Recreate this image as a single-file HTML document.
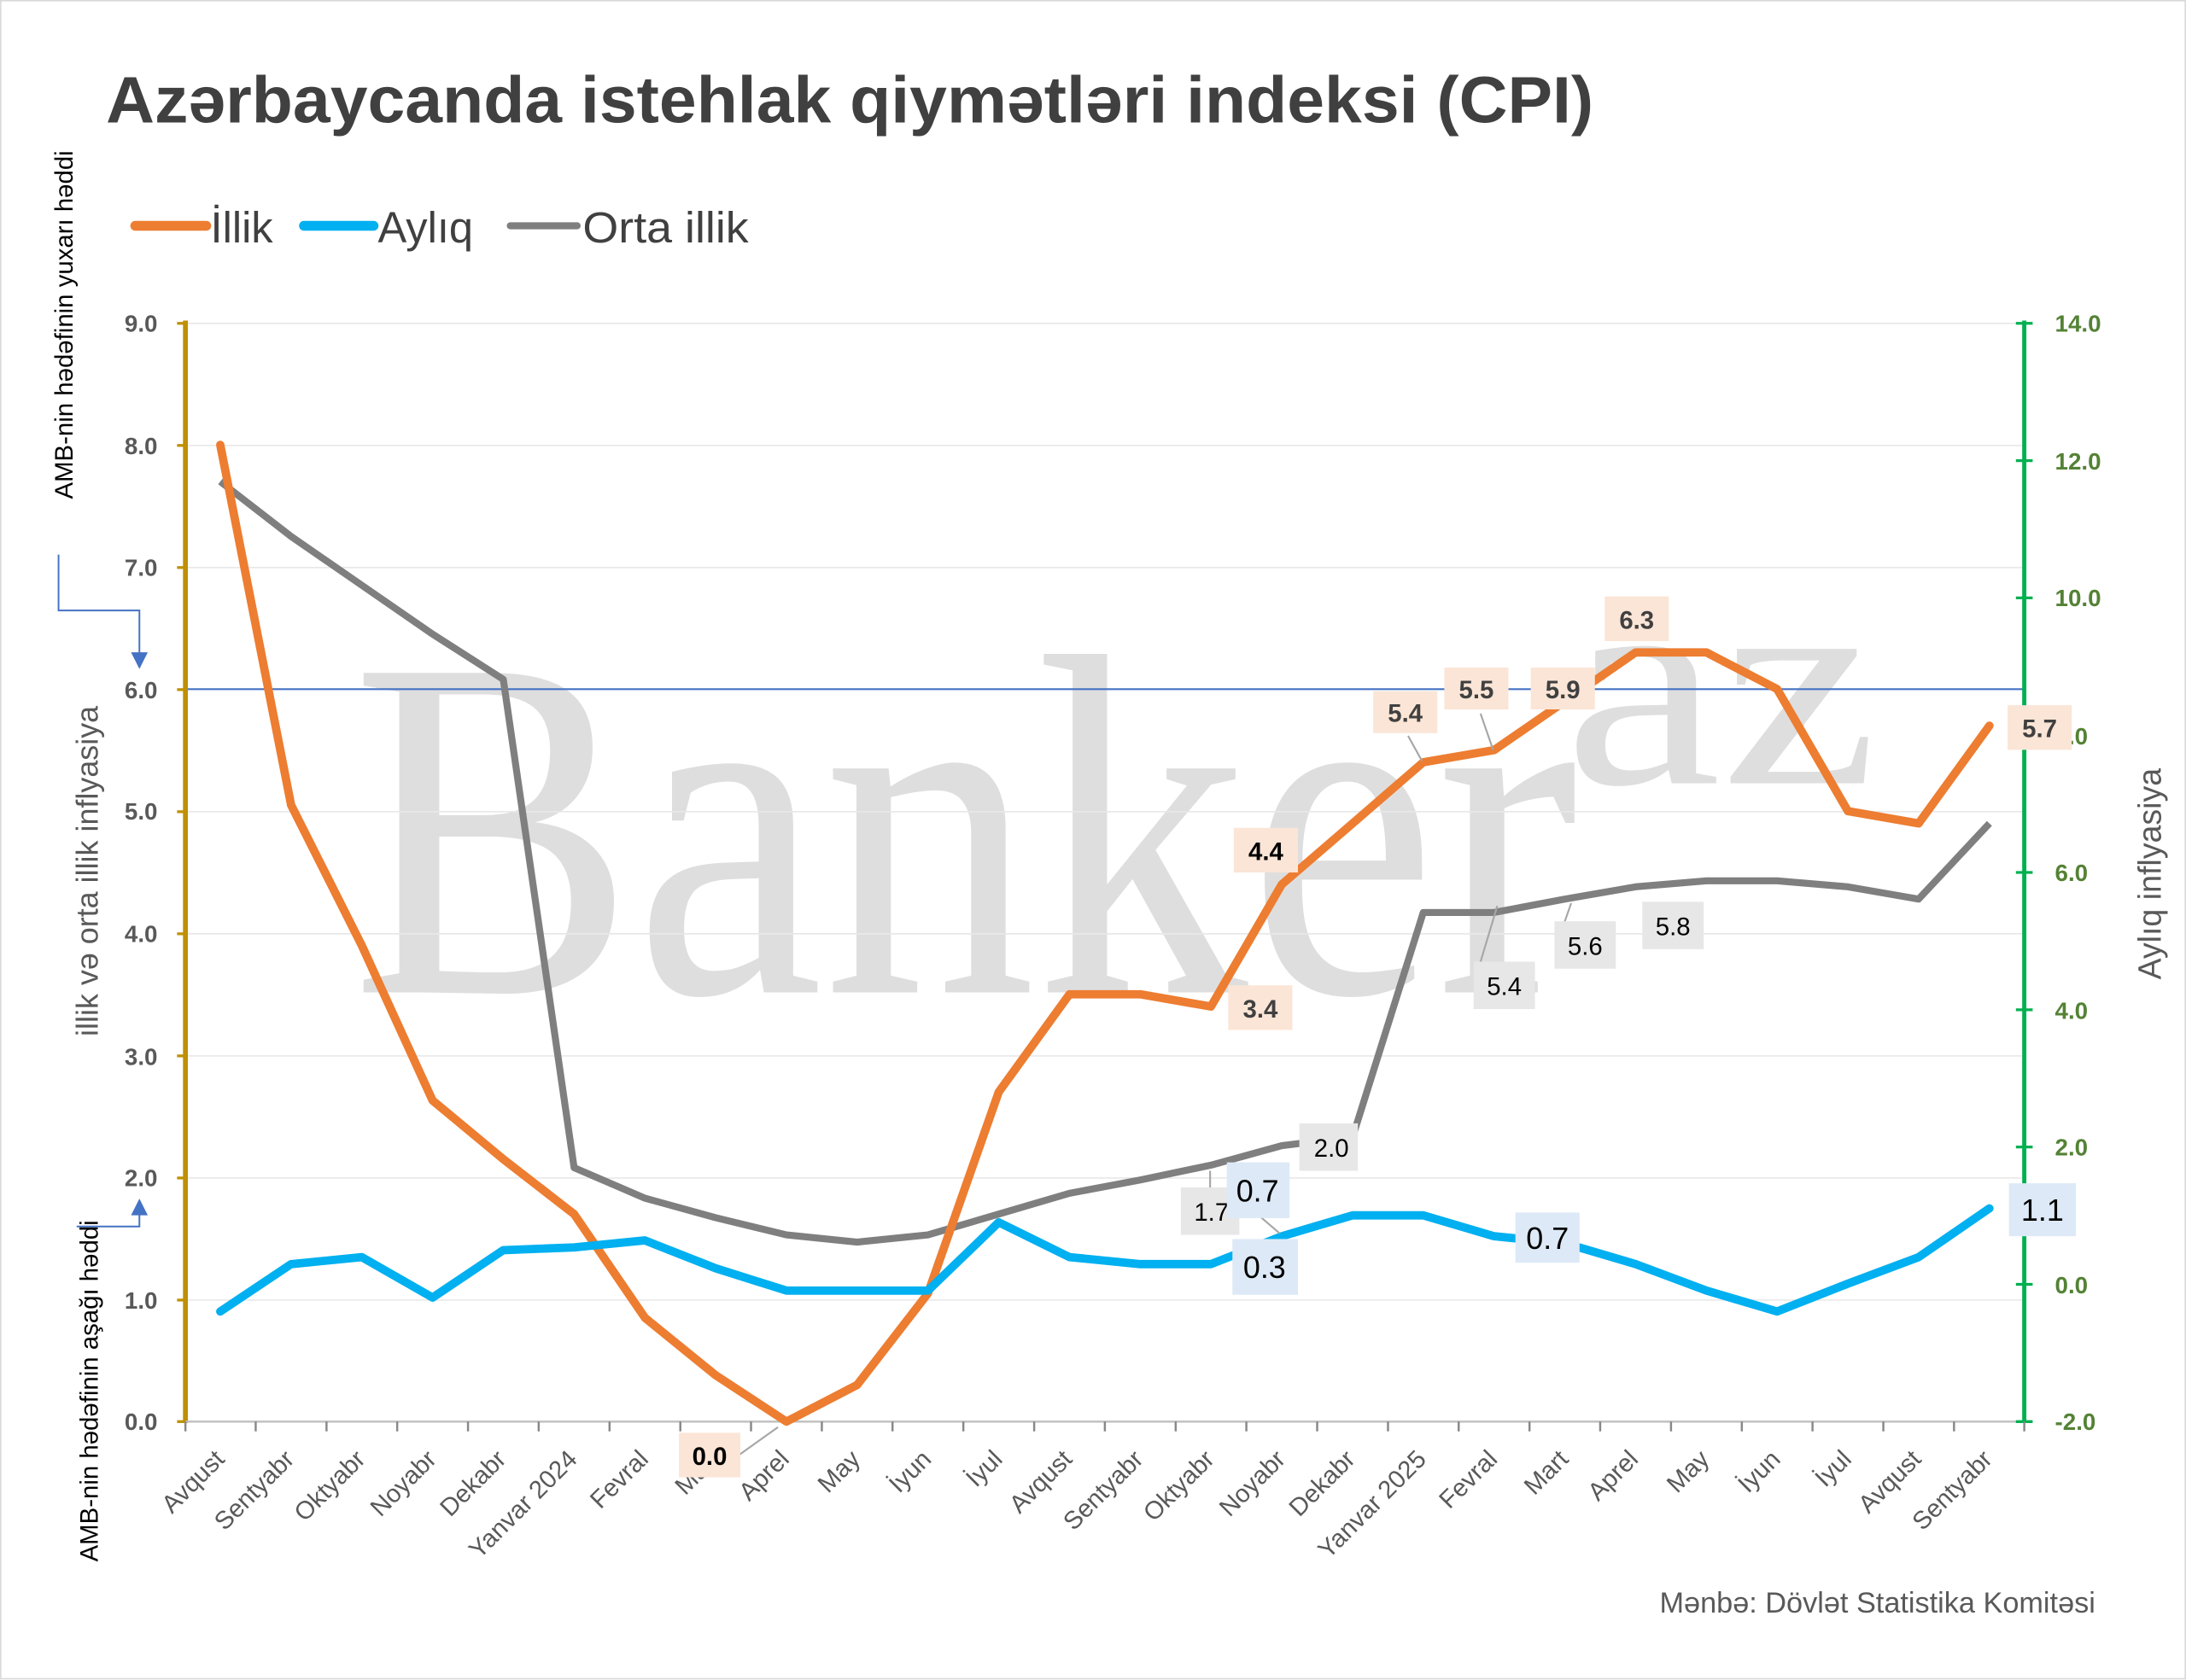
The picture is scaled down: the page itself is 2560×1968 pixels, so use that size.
<!DOCTYPE html>
<html><head><meta charset="utf-8"><style>html,body{margin:0;padding:0;background:#fff}svg{display:block}</style></head>
<body>
<svg width="2560" height="1968" viewBox="0 0 1568 1205.4" preserveAspectRatio="none" xmlns="http://www.w3.org/2000/svg" font-family="Liberation Sans, DejaVu Sans, sans-serif">
<rect x="0.5" y="0.5" width="1567" height="1204" fill="#fff" stroke="#d9d9d9"/>
<!-- watermark -->
<text x="252" y="712" font-family="Liberation Serif, serif" font-size="350" fill="#d9d9d9" opacity="0.85" textLength="880" lengthAdjust="spacingAndGlyphs">Banker</text>
<text x="1122" y="562" font-family="Liberation Serif, serif" font-size="210" fill="#d9d9d9" opacity="0.85" textLength="225" lengthAdjust="spacingAndGlyphs">az</text>
<!-- title -->
<text x="76" y="88" font-size="47" font-weight="bold" fill="#404040" textLength="1067" lengthAdjust="spacingAndGlyphs">Azərbaycanda istehlak qiymətləri indeksi (CPI)</text>
<!-- legend -->
<line x1="97" y1="162" x2="148" y2="162" stroke="#ed7d31" stroke-width="7" stroke-linecap="round"/>
<text x="151" y="174" font-size="31" fill="#404040">İllik</text>
<line x1="218" y1="162" x2="268" y2="162" stroke="#00b0f0" stroke-width="7" stroke-linecap="round"/>
<text x="271" y="174" font-size="31" fill="#404040">Aylıq</text>
<line x1="366" y1="162" x2="414" y2="162" stroke="#7f7f7f" stroke-width="5" stroke-linecap="round"/>
<text x="418" y="174" font-size="31" fill="#404040" textLength="119" lengthAdjust="spacingAndGlyphs">Orta illik</text>
<!-- grid -->
<g stroke="#e8e8e8" stroke-width="1">
<line x1="133" x2="1452" y1="232" y2="232"/><line x1="133" x2="1452" y1="319.6" y2="319.6"/><line x1="133" x2="1452" y1="407.2" y2="407.2"/><line x1="133" x2="1452" y1="582.4" y2="582.4"/><line x1="133" x2="1452" y1="670" y2="670"/><line x1="133" x2="1452" y1="757.6" y2="757.6"/><line x1="133" x2="1452" y1="845.2" y2="845.2"/><line x1="133" x2="1452" y1="932.8" y2="932.8"/>
</g>
<line x1="133" x2="1452" y1="494.5" y2="494.5" stroke="#4472c4" stroke-width="1.3"/>
<!-- axes -->
<line x1="133" y1="230" x2="133" y2="1021" stroke="#bf9000" stroke-width="3.5"/>
<line x1="1452" y1="230" x2="1452" y2="1021" stroke="#00b050" stroke-width="3"/>
<line x1="133" y1="1020" x2="1452" y2="1020" stroke="#bfbfbf" stroke-width="1.5"/>
<g stroke="#bf9000" stroke-width="2"><line x1="127" x2="133" y1="232" y2="232"/><line x1="127" x2="133" y1="319.6" y2="319.6"/><line x1="127" x2="133" y1="407.2" y2="407.2"/><line x1="127" x2="133" y1="494.8" y2="494.8"/><line x1="127" x2="133" y1="582.4" y2="582.4"/><line x1="127" x2="133" y1="670" y2="670"/><line x1="127" x2="133" y1="757.6" y2="757.6"/><line x1="127" x2="133" y1="845.2" y2="845.2"/><line x1="127" x2="133" y1="932.8" y2="932.8"/><line x1="127" x2="133" y1="1020" y2="1020"/></g>
<g stroke="#00b050" stroke-width="2"><line x1="1446" x2="1458" y1="232" y2="232"/><line x1="1446" x2="1458" y1="330.5" y2="330.5"/><line x1="1446" x2="1458" y1="429" y2="429"/><line x1="1446" x2="1458" y1="527.5" y2="527.5"/><line x1="1446" x2="1458" y1="626" y2="626"/><line x1="1446" x2="1458" y1="724.5" y2="724.5"/><line x1="1446" x2="1458" y1="823" y2="823"/><line x1="1446" x2="1458" y1="921.5" y2="921.5"/><line x1="1446" x2="1458" y1="1020" y2="1020"/></g>
<g stroke="#888" stroke-width="1.5">
<line x1="133" x2="133" y1="1020" y2="1027"/><line x1="183.4" x2="183.4" y1="1020" y2="1027"/><line x1="234.2" x2="234.2" y1="1020" y2="1027"/><line x1="284.9" x2="284.9" y1="1020" y2="1027"/><line x1="335.7" x2="335.7" y1="1020" y2="1027"/><line x1="386.4" x2="386.4" y1="1020" y2="1027"/><line x1="437.2" x2="437.2" y1="1020" y2="1027"/><line x1="488" x2="488" y1="1020" y2="1027"/><line x1="538.7" x2="538.7" y1="1020" y2="1027"/><line x1="589.5" x2="589.5" y1="1020" y2="1027"/><line x1="640.2" x2="640.2" y1="1020" y2="1027"/><line x1="691" x2="691" y1="1020" y2="1027"/><line x1="741.8" x2="741.8" y1="1020" y2="1027"/><line x1="792.5" x2="792.5" y1="1020" y2="1027"/><line x1="843.3" x2="843.3" y1="1020" y2="1027"/><line x1="894" x2="894" y1="1020" y2="1027"/><line x1="944.8" x2="944.8" y1="1020" y2="1027"/><line x1="995.6" x2="995.6" y1="1020" y2="1027"/><line x1="1046.3" x2="1046.3" y1="1020" y2="1027"/><line x1="1097.1" x2="1097.1" y1="1020" y2="1027"/><line x1="1147.8" x2="1147.8" y1="1020" y2="1027"/><line x1="1198.6" x2="1198.6" y1="1020" y2="1027"/><line x1="1249.4" x2="1249.4" y1="1020" y2="1027"/><line x1="1300.1" x2="1300.1" y1="1020" y2="1027"/><line x1="1350.9" x2="1350.9" y1="1020" y2="1027"/><line x1="1401.6" x2="1401.6" y1="1020" y2="1027"/><line x1="1452" x2="1452" y1="1020" y2="1027"/>
</g>
<!-- left tick labels -->
<g font-size="17" font-weight="bold" fill="#595959" text-anchor="end">
<text x="113" y="238">9.0</text><text x="113" y="326">8.0</text><text x="113" y="413">7.0</text><text x="113" y="501">6.0</text><text x="113" y="588">5.0</text><text x="113" y="676">4.0</text><text x="113" y="764">3.0</text><text x="113" y="851">2.0</text><text x="113" y="939">1.0</text><text x="113" y="1026">0.0</text>
</g>
<g font-size="17" font-weight="bold" fill="#548235">
<text x="1474" y="238">14.0</text><text x="1474" y="337">12.0</text><text x="1474" y="435">10.0</text><text x="1474" y="534">8.0</text><text x="1474" y="632">6.0</text><text x="1474" y="731">4.0</text><text x="1474" y="829">2.0</text><text x="1474" y="928">0.0</text><text x="1474" y="1026">-2.0</text>
</g>
<!-- x labels -->
<g font-size="18" fill="#595959" text-anchor="end">
<text transform="translate(162,1048) rotate(-45)">Avqust</text>
<text transform="translate(212,1048) rotate(-45)">Sentyabr</text>
<text transform="translate(263,1048) rotate(-45)">Oktyabr</text>
<text transform="translate(314,1048) rotate(-45)">Noyabr</text>
<text transform="translate(364,1048) rotate(-45)">Dekabr</text>
<text transform="translate(415,1048) rotate(-45)">Yanvar 2024</text>
<text transform="translate(466,1048) rotate(-45)">Fevral</text>
<text transform="translate(517,1048) rotate(-45)">Mart</text>
<text transform="translate(567,1048) rotate(-45)">Aprel</text>
<text transform="translate(618,1048) rotate(-45)">May</text>
<text transform="translate(669,1048) rotate(-45)">İyun</text>
<text transform="translate(720,1048) rotate(-45)">İyul</text>
<text transform="translate(770,1048) rotate(-45)">Avqust</text>
<text transform="translate(821,1048) rotate(-45)">Sentyabr</text>
<text transform="translate(872,1048) rotate(-45)">Oktyabr</text>
<text transform="translate(923,1048) rotate(-45)">Noyabr</text>
<text transform="translate(973,1048) rotate(-45)">Dekabr</text>
<text transform="translate(1024,1048) rotate(-45)">Yanvar 2025</text>
<text transform="translate(1075,1048) rotate(-45)">Fevral</text>
<text transform="translate(1126,1048) rotate(-45)">Mart</text>
<text transform="translate(1176,1048) rotate(-45)">Aprel</text>
<text transform="translate(1227,1048) rotate(-45)">May</text>
<text transform="translate(1278,1048) rotate(-45)">İyun</text>
<text transform="translate(1329,1048) rotate(-45)">İyul</text>
<text transform="translate(1379,1048) rotate(-45)">Avqust</text>
<text transform="translate(1430,1048) rotate(-45)">Sentyabr</text>
</g>
<!-- axis titles -->
<text transform="translate(70,625) rotate(-90)" font-size="22" fill="#595959" text-anchor="middle">illik və orta illik inflyasiya</text>
<text transform="translate(1550,627) rotate(-90)" font-size="23" fill="#595959" text-anchor="middle">Aylıq inflyasiya</text>
<text transform="translate(52,233) rotate(-90)" font-size="18" fill="#000" text-anchor="middle">AMB-nin hədəfinin yuxarı həddi</text>
<text transform="translate(70,998) rotate(-90)" font-size="18" fill="#000" text-anchor="middle">AMB-nin hədəfinin aşağı həddi</text>
<path d="M42,398 V438 H100 V470" fill="none" stroke="#4472c4" stroke-width="1.2"/>
<polygon points="94,468 106,468 100,480" fill="#4472c4"/>
<path d="M55,880 H100 V870" fill="none" stroke="#4472c4" stroke-width="1.2"/>
<polygon points="94,872 106,872 100,860" fill="#4472c4"/>
<!-- series -->
<polyline fill="none" stroke="#7f7f7f" stroke-width="5" stroke-linejoin="round" points="158,345.5 208.8,384.9 259.5,419.9 310.3,455 361,487.4 411.8,837.8 462.6,859.7 513.3,873.7 564.1,886 614.8,891.2 665.6,886 716.4,871.1 767.1,856.2 817.9,846.6 868.6,836 919.4,822 970.2,815.9 1020.9,654.7 1071.7,654.7 1122.4,645.1 1173.2,636.3 1224,632 1274.7,632 1325.5,636.3 1376.2,645.1 1427,590.8"/>
<polyline fill="none" stroke="#ed7d31" stroke-width="6" stroke-linejoin="round" stroke-linecap="round" points="158,319.2 208.8,577.6 259.5,678.4 310.3,789.6 361,831.7 411.8,871.1 462.6,945.5 513.3,986.7 564.1,1020 614.8,993.7 665.6,928 716.4,783.5 767.1,713.4 817.9,713.4 868.6,722.2 919.4,634.6 970.2,590.8 1020.9,546.9 1071.7,538.2 1122.4,503.2 1173.2,468.1 1224,468.1 1274.7,494.4 1325.5,582 1376.2,590.8 1427,520.7"/>
<polyline fill="none" stroke="#00b0f0" stroke-width="6" stroke-linejoin="round" stroke-linecap="round" points="158,941 208.8,907 259.5,902 310.3,931 361,897 411.8,895 462.6,890 513.3,910 564.1,926 614.8,926 665.6,926 716.4,877 767.1,902 817.9,907 868.6,907 919.4,887 970.2,872 1020.9,872 1071.7,887 1122.4,892 1173.2,907 1224,926 1274.7,941 1325.5,921 1376.2,902 1427,867"/>
<!-- leader lines -->
<g stroke="#a6a6a6" stroke-width="1.3" fill="none">
<line x1="868" y1="840" x2="868" y2="858"/><line x1="904" y1="873" x2="918" y2="885"/>
<line x1="1062" y1="690" x2="1074" y2="650"/><line x1="1120" y1="668" x2="1127" y2="648"/>
<line x1="1020" y1="546" x2="1010" y2="528"/><line x1="1071" y1="538" x2="1062" y2="512"/>
<line x1="530" y1="1044" x2="558" y2="1024"/>
</g>
<!-- labels -->
<g font-size="18" text-anchor="middle">
<rect x="985" y="496" width="46" height="30" fill="#fbe5d6"/><text x="1008" y="518" font-weight="bold" fill="#404040">5.4</text>
<rect x="1036" y="479" width="46" height="30" fill="#fbe5d6"/><text x="1059" y="501" font-weight="bold" fill="#404040">5.5</text>
<rect x="1098" y="479" width="46" height="30" fill="#fbe5d6"/><text x="1121" y="501" font-weight="bold" fill="#404040">5.9</text>
<rect x="1151" y="428" width="46" height="32" fill="#fbe5d6"/><text x="1174" y="451" font-weight="bold" fill="#404040">6.3</text>
<rect x="1440" y="506" width="46" height="32" fill="#fbe5d6"/><text x="1463" y="529" font-weight="bold" fill="#404040">5.7</text>
<rect x="885" y="594" width="46" height="32" fill="#fbe5d6"/><text x="908" y="617" font-weight="bold" fill="#000">4.4</text>
<rect x="881" y="707" width="46" height="32" fill="#fbe5d6"/><text x="904" y="730" font-weight="bold" fill="#404040">3.4</text>
<rect x="487" y="1028" width="44" height="32" fill="#fbe5d6"/><text x="509" y="1051" font-weight="bold" fill="#000">0.0</text>
<rect x="932" y="806" width="42" height="34" fill="#e7e7e7"/><text x="955" y="830" fill="#000">2.0</text>
<rect x="847" y="852" width="42" height="34" fill="#e7e7e7"/><text x="869" y="876" fill="#000">1.7</text>
<rect x="1057" y="690" width="44" height="34" fill="#e7e7e7"/><text x="1079" y="714" fill="#000">5.4</text>
<rect x="1115" y="661" width="44" height="34" fill="#e7e7e7"/><text x="1137" y="685" fill="#000">5.6</text>
<rect x="1178" y="647" width="44" height="34" fill="#e7e7e7"/><text x="1200" y="671" fill="#000">5.8</text>
<rect x="880" y="834" width="45" height="40" fill="#dde9f6"/><text x="902" y="862" font-size="22" fill="#000">0.7</text>
<rect x="884" y="889" width="47" height="40" fill="#dde9f6"/><text x="907" y="917" font-size="22" fill="#000">0.3</text>
<rect x="1087" y="870" width="46" height="36" fill="#dde9f6"/><text x="1110" y="896" font-size="22" fill="#000">0.7</text>
<rect x="1441" y="849" width="48" height="38" fill="#dde9f6"/><text x="1465" y="876" font-size="22" fill="#000">1.1</text>
</g>
<text x="1503" y="1157" font-size="21" fill="#595959" text-anchor="end">Mənbə: Dövlət Statistika Komitəsi</text>
</svg>
</body></html>
